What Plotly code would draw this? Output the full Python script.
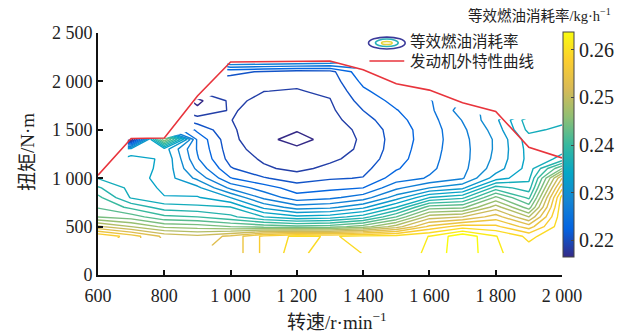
import plotly.graph_objects as go

N = None
# engine speed (r/min) and torque (N·m) grid
speed = [600, 700, 800, 900, 1000, 1100, 1200, 1300, 1400, 1500, 1600, 1700, 1800, 1900, 2000]
torque = [225, 400, 500, 600, 700, 800, 900, 1000, 1100, 1200, 1300, 1400, 1500, 1600,
          1700, 1800, 1900, 2000, 2100, 2200]

# equivalent fuel consumption rate (kg/h), one list per torque row, columns follow `speed`
fuel_rate = [
    [N, N, N, N, 0.2525, 0.2565, 0.2590, 0.2561, 0.2581, 0.2588, 0.2604, 0.2635, 0.2603, 0.2590, 0.2595],   # 225
    [0.2579, 0.2550, 0.2515, 0.2505, 0.2525, 0.2565, 0.2585, 0.2578, 0.2585, 0.2588, 0.26005, 0.2635, 0.2601, 0.2575, 0.2595],  # 400
    [0.2504, 0.2480, 0.2455, 0.2450, 0.2440, 0.2432, 0.2425, 0.2430, 0.2450, 0.2490, 0.2545, 0.2570, 0.2565, 0.2530, 0.2595],  # 500
    [0.2439, 0.2430, 0.2405, 0.2400, 0.2385, 0.2360, 0.2345, 0.2350, 0.2370, 0.2420, 0.2490, 0.2500, 0.2530, 0.2480, 0.2596],  # 600
    [0.2418, 0.2395, 0.2370, 0.2365, 0.2361, 0.2315, 0.2290, 0.2295, 0.2315, 0.2360, 0.2430, 0.2435, 0.2490, 0.2430, 0.2595],  # 700
    [0.2406, 0.2358, 0.2341, 0.2342, 0.2320, 0.2275, 0.2248, 0.2255, 0.2270, 0.2310, 0.2360, 0.2375, 0.2445, 0.2395, 0.2588],  # 800
    [0.2383, 0.2354, 0.2336, 0.2326, 0.2275, 0.2250, 0.2230, 0.2235, 0.2240, 0.2275, 0.2300, 0.2315, 0.2390, 0.2370, 0.2555],  # 900
    [0.2359, 0.2350, 0.2332, 0.2295, 0.2241, 0.2222, 0.2210, 0.2218, 0.2221, 0.2250, 0.2262, 0.2278, 0.2330, 0.2355, 0.2520],  # 1000
    [N, 0.2348, 0.2336, 0.2275, 0.2222, 0.2203, 0.2195, 0.2205, 0.2214, 0.2238, 0.2256, 0.2274, 0.2310, 0.2348, 0.2440],       # 1100
    [N, 0.2345, 0.2338, 0.2262, 0.2212, 0.2197, 0.2187, 0.2196, 0.2208, 0.2232, 0.2254, 0.2273, 0.2305, 0.2346, 0.2365],       # 1200
    [N, 0.2330, 0.2330, 0.2258, 0.2208, 0.2191, 0.2184, 0.2190, 0.2204, 0.2230, 0.2252, 0.2273, 0.2303, 0.2347, 0.2355],       # 1300
    [N, 0.2165, 0.2460, 0.2255, 0.2205, 0.2186, 0.2172, 0.2188, 0.2203, 0.2229, 0.2250, 0.2274, 0.2303, 0.2350, 0.2352],       # 1400
    [N, N, N, 0.2235, 0.2203, 0.2187, 0.2182, 0.2190, 0.2205, 0.2230, 0.2250, 0.2276, 0.2308, 0.2366, 0.2354],                 # 1500
    [N, N, N, 0.2210, 0.22005, 0.2190, 0.2185, 0.2193, 0.2212, 0.2234, 0.2252, 0.2281, 0.2315, 0.2372, 0.2366],                # 1600
    [N, N, N, 0.2185, 0.2202, 0.2193, 0.2189, 0.2196, 0.2220, 0.2239, 0.2255, 0.2290, N, N, N],                                # 1700
    [N, N, N, 0.2175, 0.2204, 0.2196, 0.2194, 0.2199, 0.2228, 0.2246, 0.2258, N, N, N, N],                                     # 1800
    [N, N, N, N, 0.2207, 0.22002, 0.2199, 0.2203, 0.2236, 0.2255, N, N, N, N, N],                                              # 1900
    [N, N, N, N, 0.2212, 0.2206, 0.2203, 0.2208, 0.2245, N, N, N, N, N, N],                                                    # 2000
    [N, N, N, N, 0.2225, 0.2218, 0.2212, 0.2213, 0.2255, N, N, N, N, N, N],                                                    # 2100
    [N, N, N, N, 0.2300, 0.2298, 0.2295, 0.2290, N, N, N, N, N, N, N],                                                         # 2200
]

# engine full-load (external characteristic) curve
ext_speed = [600, 700, 800, 900, 1000, 1100, 1200, 1300, 1400, 1500, 1600, 1700, 1800, 1900, 2000]
ext_torque = [1030, 1410, 1415, 1850, 2200, 2205, 2208, 2210, 2120, 1975, 1910, 1780, 1690, 1320, 1210]

x_ticks = [600, 800, 1000, 1200, 1400, 1600, 1800, 2000]
x_ticklabels = ["600", "800", "1 000", "1 200", "1 400", "1 600", "1 800", "2 000"]
y_ticks = [0, 500, 1000, 1500, 2000, 2500]
y_ticklabels = ["0", "500", "1 000", "1 500", "2 000", "2 500"]
cb_ticks = [0.22, 0.23, 0.24, 0.25, 0.26]
cb_ticklabels = ["0.22", "0.23", "0.24", "0.25", "0.26"]

parula = [[0.0, '#352a87'], [0.125, '#0363e1'], [0.25, '#1485d4'], [0.375, '#06a7c6'],
          [0.5, '#38b99e'], [0.625, '#92bf73'], [0.75, '#d9ba56'], [0.875, '#fcce2e'],
          [1.0, '#f9fb0e']]
ZMIN, ZMAX = 0.2165, 0.2637

SERIF = "Liberation Serif, Times New Roman, Noto Sans CJK SC, serif"

fig = go.Figure()

# invisible heatmap that carries the continuous colour bar
fig.add_trace(go.Heatmap(
    x=speed, y=torque, z=fuel_rate, opacity=0, hoverinfo='skip',
    colorscale=parula, zmin=ZMIN, zmax=ZMAX, showscale=True,
    colorbar=dict(
        x=1.002, xanchor='left', y=1.004, yanchor='top', len=0.93, lenmode='fraction',
        thickness=11, outlinewidth=1, outlinecolor='#444', xpad=0, ypad=0,
        tickvals=cb_ticks, ticktext=cb_ticklabels, ticks='inside', ticklen=3,
        tickcolor='#444', tickfont=dict(family=SERIF, size=20, color='#222'),
    ),
))

fig.add_trace(go.Contour(
    x=speed, y=torque, z=fuel_rate,
    colorscale=parula, zmin=ZMIN, zmax=ZMAX, showscale=False,
    contours=dict(coloring='lines', start=0.218, end=0.262, size=0.002),
    line=dict(width=1.4, smoothing=0), connectgaps=False, hoverinfo='skip',
))

fig.add_trace(go.Scatter(
    x=ext_speed, y=ext_torque, mode='lines',
    line=dict(color='#e8343c', width=1.6), showlegend=False,
))

# legend (drawn by hand to mimic the original)
shapes = [
    dict(type='circle', xref='paper', yref='paper', x0=0.583, x1=0.662, y0=0.934, y1=0.983,
         line=dict(color='#3b3a9a', width=1.6)),
    dict(type='circle', xref='paper', yref='paper', x0=0.598, x1=0.647, y0=0.944, y1=0.975,
         line=dict(color='#2ab0b8', width=1.6)),
    dict(type='circle', xref='paper', yref='paper', x0=0.611, x1=0.634, y0=0.9525, y1=0.965,
         line=dict(color='#e6d23a', width=1.6)),
    dict(type='line', xref='paper', yref='paper', x0=0.585, x1=0.660, y0=0.8843, y1=0.8843,
         line=dict(color='#e8343c', width=1.6)),
]

annotations = [
    dict(text="等效燃油消耗率", x=0.668, y=0.963, xref='paper', yref='paper',
         xanchor='left', yanchor='middle', showarrow=False,
         font=dict(family=SERIF, size=15.5, color='#222')),
    dict(text="发动机外特性曲线", x=0.668, y=0.884, xref='paper', yref='paper',
         xanchor='left', yanchor='middle', showarrow=False,
         font=dict(family=SERIF, size=15.5, color='#222')),
    dict(text="等效燃油消耗率/kg·h<sup>−1</sup>", x=1.11, y=1.076, xref='paper', yref='paper',
         xanchor='right', yanchor='middle', showarrow=False,
         font=dict(family=SERIF, size=14.5, color='#222')),
    dict(text="扭矩/N·m", x=-0.152, y=0.51, xref='paper', yref='paper', textangle=-90,
         xanchor='center', yanchor='middle', showarrow=False,
         font=dict(family=SERIF, size=19, color='#222')),
    dict(text="转速/r·min<sup>−1</sup>", x=0.516, y=-0.19, xref='paper', yref='paper',
         xanchor='center', yanchor='middle', showarrow=False,
         font=dict(family=SERIF, size=19, color='#222')),
]

axis_common = dict(showline=True, linecolor='#111', linewidth=2, ticks='inside', ticklen=5,
                   tickwidth=2, tickcolor='#111', showgrid=False, zeroline=False, mirror=False,
                   tickfont=dict(family=SERIF, size=18, color='#222'))

fig.update_layout(
    width=630, height=332, margin=dict(l=98, r=62, t=33, b=57),
    paper_bgcolor='white', plot_bgcolor='white', showlegend=False,
    xaxis=dict(range=[600, 2000], tickvals=x_ticks, ticktext=x_ticklabels,
               ticklabelstandoff=3, **axis_common),
    yaxis=dict(range=[0, 2500], tickvals=y_ticks, ticktext=y_ticklabels, **axis_common),
    shapes=shapes, annotations=annotations,
)

fig.write_html("out.html")
